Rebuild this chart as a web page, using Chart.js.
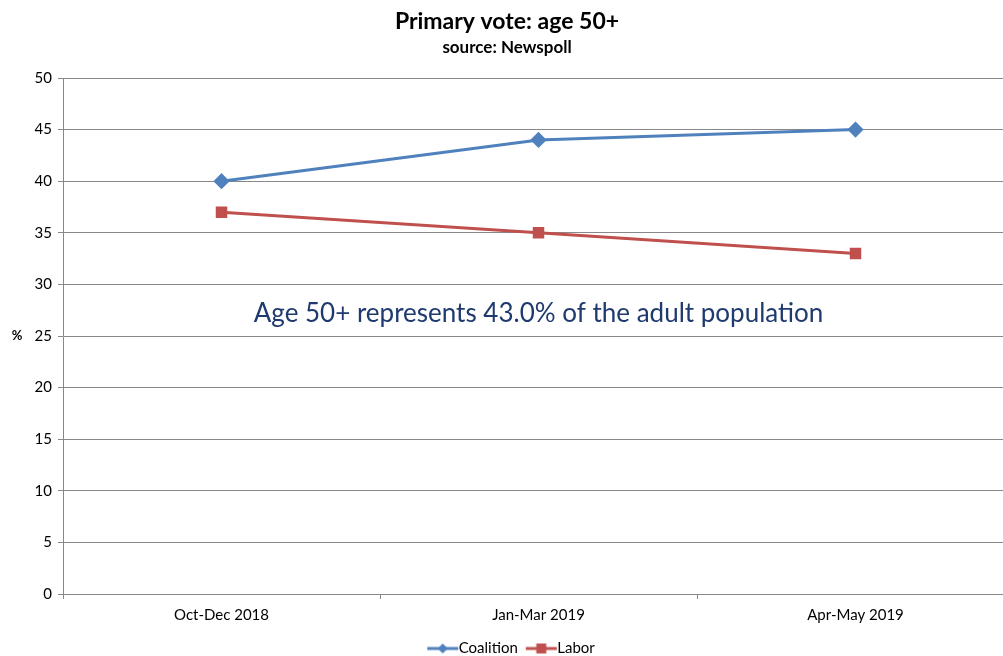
<!DOCTYPE html>
<html>
<head>
<meta charset="utf-8">
<script src="https://cdn.jsdelivr.net/npm/chart.js@4.4.0/dist/chart.umd.min.js"></script>
<style>
  html, body { margin: 0; padding: 0; background: #fff; overflow: hidden; }
  #wrap { width: 1024px; height: 656px; }
</style>
</head>
<body>
<div id="wrap"><canvas id="chart"></canvas></div>
<script>
const categories = ['Oct-Dec 2018', 'Jan-Mar 2019', 'Apr-May 2019'];
const coalition = [40, 44, 45];
const labor = [37, 35, 33];
const yTicks = [0, 5, 10, 15, 20, 25, 30, 35, 40, 45, 50];
const noteText = 'Age 50+ represents 43.0% of the adult population';

const FONT = 'Lato, "Open Sans", sans-serif';
const BLUE = '#4F81BD';
const RED = '#C0504D';
const GRID = '#888888';

// small legend images: line with marker in the middle
function legendIcon(color, shape) {
    const c = document.createElement('canvas');
    c.width = 48; c.height = 12;
    const g = c.getContext('2d');
    g.strokeStyle = color;
    g.lineWidth = 3;
    g.beginPath();
    g.moveTo(16, 6);
    g.lineTo(47, 6);
    g.stroke();
    g.fillStyle = color;
    if (shape === 'diamond') {
        g.beginPath();
        g.moveTo(31.5, 1); g.lineTo(36.5, 6); g.lineTo(31.5, 11); g.lineTo(26.5, 6);
        g.closePath();
        g.fill();
    } else {
        g.fillRect(26.5, 1, 10, 10);
    }
    return c;
}

//draw "%" label and the note text
const extras = {
    id: 'extras',
    afterDraw(chart) {
        const ctx = chart.ctx;
        const x = chart.scales.x;
        const y = chart.scales.y;
        ctx.save();
        ctx.fillStyle = '#000';
        ctx.font = 'bold 13px ' + FONT;
        ctx.textAlign = 'center';
        ctx.textBaseline = 'middle';
        ctx.fillText('%', 17, y.getPixelForValue(25));

        ctx.fillStyle = '#1F3A6E';
        ctx.font = '26px ' + FONT;
        ctx.fillText(noteText, x.getPixelForValue(1), y.getPixelForValue(27.2));
        ctx.restore();
    }
};

new Chart(document.getElementById('chart'), {
    type: 'line',
    data: {
        labels: categories,
        datasets: [
            {
                label: 'Coalition',
                data: coalition,
                borderColor: BLUE,
                backgroundColor: BLUE,
                borderWidth: 3,
                pointStyle: 'rectRot',
                pointRadius: 6,
                pointHoverRadius: 6,
                tension: 0
            },
            {
                label: 'Labor',
                data: labor,
                borderColor: RED,
                backgroundColor: RED,
                borderWidth: 3,
                pointStyle: 'rect',
                pointRadius: 6,
                pointHoverRadius: 6,
                tension: 0
            }
        ]
    },
    options: {
        responsive: true,
        maintainAspectRatio: false,
        animation: false,
        layout: { padding: { left: 0, right: 10, top: 0, bottom: -10 } },
        plugins: {
            title: {
                display: true,
                text: 'Primary vote: age 50+',
                color: '#000',
                font: { family: FONT, size: 23, weight: 'bold' },
                padding: { top: 8, bottom: 2 }
            },
            subtitle: {
                display: true,
                text: 'source: Newspoll',
                color: '#000',
                font: { family: FONT, size: 17, weight: 'bold' },
                padding: { top: 0, bottom: 20 }
            },
            legend: {
                position: 'bottom',
                labels: {
                    color: '#000',
                    font: { family: FONT, size: 15 },
                    usePointStyle: true,
                    pointStyleWidth: 32,
                    boxHeight: 12,
                    padding: 0,
                    generateLabels(chart) {
                        return chart.data.datasets.map((ds, i) => ({
                            text: ds.label,
                            fontColor: '#000',
                            pointStyle: legendIcon(ds.borderColor, i === 0 ? 'diamond' : 'square'),
                            datasetIndex: i,
                            hidden: false,
                            lineWidth: 0
                        }));
                    }
                }
            },
            tooltip: { enabled: false }
        },
        scales: {
            x: {
                offset: true,
                afterFit(scale) {
                    scale.height += 10;
                },
                grid: {
                    offset: true,
                    drawOnChartArea: false,
                    drawTicks: true,
                    tickLength: 5,
                    color: GRID
                },
                border: { color: GRID, width: 1 },
                ticks: {
                    color: '#000',
                    font: { family: FONT, size: 15 },
                    padding: 7,
                    maxRotation: 0
                }
            },
            y: {
                min: 0,
                max: 50,
                afterBuildTicks(scale) {
                    scale.ticks = yTicks.map(v => ({ value: v }));
                },
                afterFit(scale) {
                    scale.width = 63;
                },
                grid: {
                    color: GRID,
                    tickLength: 5,
                    lineWidth: 1
                },
                border: { color: GRID, width: 1 },
                ticks: {
                    color: '#000',
                    font: { family: FONT, size: 15 },
                    padding: 6
                }
            }
        }
    },
    plugins: [extras]
});
</script>
</body>
</html>
